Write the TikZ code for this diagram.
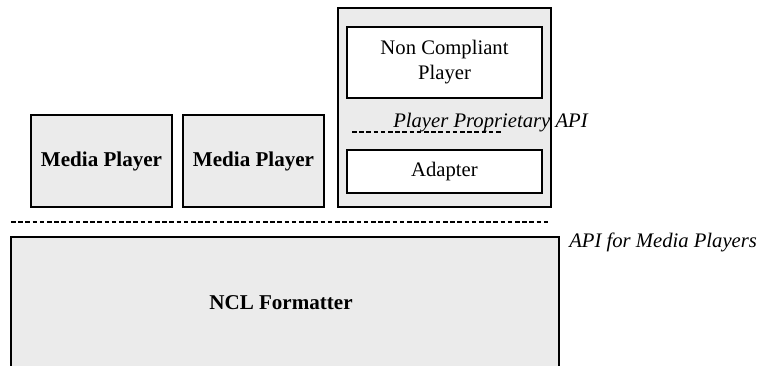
\documentclass[tikz,border=0pt]{standalone}
\usepackage{fontspec}
\setmainfont{Liberation Serif}
\definecolor{boxgray}{HTML}{EBEBEB}
\tikzset{
  px/.style={x=0.75pt,y=-0.75pt},
  graybox/.style={draw=black,line width=0.8pt,fill=boxgray,rectangle,inner sep=0pt,align=center},
  whitebox/.style={draw=black,line width=0.8pt,fill=white,rectangle,inner sep=0pt,align=center},
  labeltext/.style={font=\fontsize{15.5}{18.75}\selectfont},
  boldtext/.style={font=\fontsize{15.8}{18.75}\selectfont\bfseries},
  apitext/.style={font=\fontsize{15.5}{18.75}\selectfont\itshape,inner sep=0pt,anchor=base west},
  apiline/.style={line width=1.4pt,dash pattern=on 3.4pt off 2pt}
}
\begin{document}
\begin{tikzpicture}[px]
\useasboundingbox (0,0) rectangle (762,365);

% NCL formatter: open at the bottom edge
\fill[boxgray] (11,237) rectangle (559,366);
\draw[line width=0.8pt] (11,366) -- (11,237) -- (559,237) -- (559,366);
\node[boldtext] (ncl) at (281,303) {NCL Formatter};

% API for media players
\coordinate (apiL) at (11,222);
\coordinate (apiR) at (550,222);
\draw[apiline] (apiL) -- (apiR);
\node[apitext] (apilabel) at (569,247) {API for Media Players};

% Media players
\node[graybox,boldtext,minimum width=141*0.75pt,minimum height=92*0.75pt] (mp1) at (101.5,161) {Media Player};
\node[graybox,boldtext,minimum width=141*0.75pt,minimum height=92*0.75pt] (mp2) at (253.5,161) {Media Player};

% Non compliant player with adapter
\node[graybox,minimum width=213*0.75pt,minimum height=199*0.75pt] (outer) at (444.5,107.5) {};
\node[whitebox,labeltext,minimum width=195*0.75pt,minimum height=71*0.75pt] (ncp) at (444.5,62.5) {Non Compliant\\Player};
\node[whitebox,labeltext,minimum width=195*0.75pt,minimum height=43*0.75pt] (adapter) at (444.5,171.5) {Adapter};

% Player proprietary API
\coordinate (ppaL) at (352,132);
\coordinate (ppaR) at (503,132);
\draw[apiline] (ppaL) -- (ppaR);
\node[apitext] (ppalabel) at (393,127) {Player Proprietary API};
\end{tikzpicture}
\end{document}
